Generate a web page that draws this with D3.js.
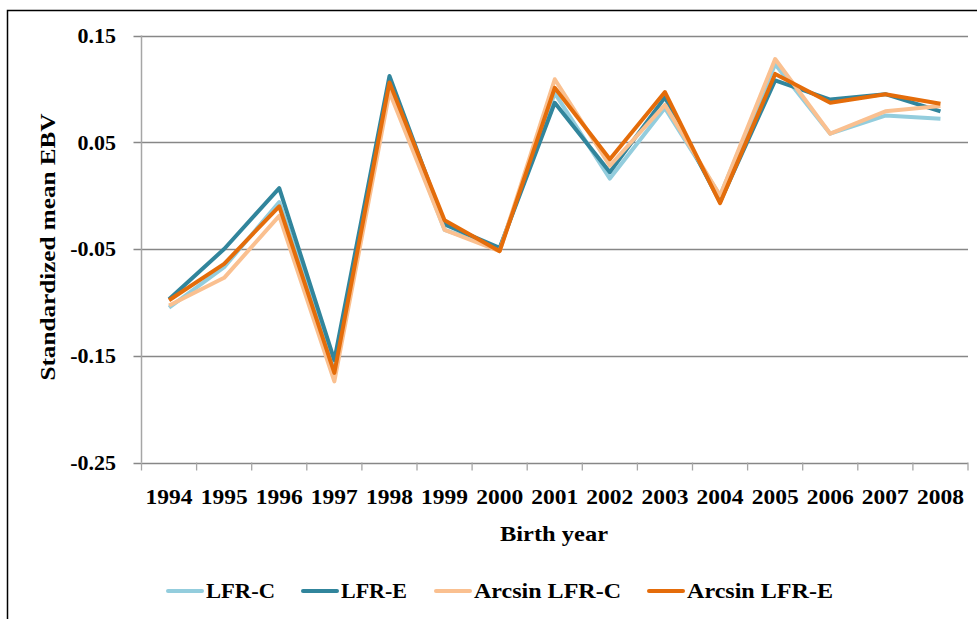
<!DOCTYPE html>
<html><head><meta charset="utf-8">
<script src="https://cdn.jsdelivr.net/npm/d3@7"></script>
<style>body{margin:0;background:#fff}svg{display:block}text{font-family:"Liberation Serif","Times New Roman",serif;font-weight:bold;fill:#000}</style>
</head><body><svg id="c" width="977" height="619"></svg>
<script>
const years = ["1994","1995","1996","1997","1998","1999","2000","2001","2002","2003","2004","2005","2006","2007","2008"];
const lfrC =       [-0.105,-0.067,-0.006,-0.159,0.102,-0.032,-0.050,0.096,0.016,0.082,0.000,0.123,0.058,0.075,0.072];
const lfrE =       [-0.097,-0.050, 0.007,-0.154,0.112,-0.027,-0.049,0.087,0.022,0.092,-0.006,0.108,0.090,0.095,0.079];
const arcsinLfrC = [-0.103,-0.077,-0.019,-0.174,0.097,-0.032,-0.052,0.109,0.028,0.085,0.000,0.128,0.058,0.079,0.084];
const arcsinLfrE = [-0.098,-0.064,-0.010,-0.166,0.106,-0.023,-0.052,0.101,0.034,0.097,-0.007,0.114,0.087,0.095,0.086];
const seriesNames = ["LFR-C","LFR-E","Arcsin LFR-C","Arcsin LFR-E"];
const seriesColors = ["#93CDDD","#31859C","#FAC090","#E46C0A"];
const yTicks = [0.15,0.05,-0.05,-0.15,-0.25];
const yTickLabels = ["0.15","0.05","-0.05","-0.15","-0.25"];

const svg = d3.select("#c");
const L=141.5, R=968, T=35.5, B=462.5;
const x = d3.scaleBand().domain(years).range([L,R]);
const y = d3.scaleLinear().domain([-0.25,0.15]).range([B,T]);

// frame
svg.append("path").attr("d","M7.5,619 V10.5 H977").attr("fill","none").attr("stroke","#000").attr("stroke-width",1.5);

// gridlines
svg.append("g").selectAll("line").data(yTicks).join("line")
  .attr("x1",L-8).attr("x2",R).attr("y1",d=>Math.round(y(d))+0.5).attr("y2",d=>Math.round(y(d))+0.5)
  .attr("stroke","#878787").attr("stroke-width",1.3);
// y axis line
svg.append("line").attr("x1",L).attr("x2",L).attr("y1",T).attr("y2",B).attr("stroke","#a6a6a6").attr("stroke-width",1.5);
// x ticks
const xt = years.map(d=>x(d)).concat([R]);
svg.append("g").selectAll("line").data(xt).join("line")
  .attr("x1",d=>d).attr("x2",d=>d).attr("y1",B).attr("y2",B+8).attr("stroke","#a6a6a6").attr("stroke-width",1.3);

// y tick labels
svg.append("g").selectAll("text").data(yTicks).join("text")
  .attr("x",116).attr("y",d=>y(d)).attr("dy","0.34em").attr("text-anchor","end")
  .style("font-size","22px").text((d,i)=>yTickLabels[i]);
// x tick labels
svg.append("g").selectAll("text").data(years).join("text")
  .attr("x",d=>x(d)+x.bandwidth()/2).attr("y",504).attr("text-anchor","middle")
  .style("font-size","22px").attr("textLength",47).attr("lengthAdjust","spacingAndGlyphs").text(d=>d);
// titles
svg.append("text").attr("x",554).attr("y",541).attr("text-anchor","middle").style("font-size","22px")
  .attr("textLength",108).attr("lengthAdjust","spacingAndGlyphs").text("Birth year");
svg.append("text").attr("transform","translate(55,247) rotate(-90)").attr("text-anchor","middle").style("font-size","22px")
  .attr("textLength",267).attr("lengthAdjust","spacingAndGlyphs").text("Standardized mean EBV");

// lines
const data = [lfrC,lfrE,arcsinLfrC,arcsinLfrE];
const line = d3.line().x((d,i)=>x(years[i])+x.bandwidth()/2).y(d=>y(d));
svg.append("g").selectAll("path").data(data).join("path")
  .attr("d",line).attr("fill","none").attr("stroke",(d,i)=>seriesColors[i])
  .attr("stroke-width",4).attr("stroke-linejoin","round");

// legend
const lx = [168,303,436,649];
const lw = [69,66,147,146];
const lg = svg.append("g").selectAll("g").data(seriesNames).join("g");
lg.append("line").attr("x1",(d,i)=>lx[i]).attr("x2",(d,i)=>lx[i]+34).attr("y1",591).attr("y2",591)
  .attr("stroke",(d,i)=>seriesColors[i]).attr("stroke-width",4).attr("stroke-linecap","round");
lg.append("text").attr("x",(d,i)=>lx[i]+38).attr("y",598).style("font-size","22px")
  .attr("textLength",(d,i)=>lw[i]).attr("lengthAdjust","spacingAndGlyphs").text(d=>d);
</script></body></html>
